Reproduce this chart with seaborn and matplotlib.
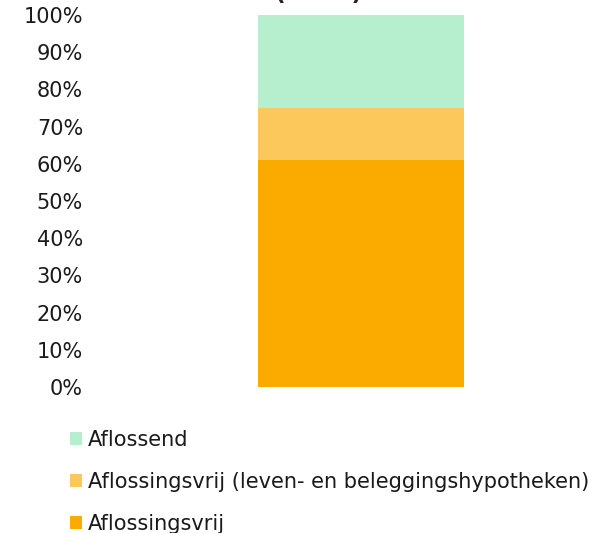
import matplotlib
matplotlib.use("Agg")
import matplotlib.pyplot as plt
import seaborn as sns
import pandas as pd
from matplotlib.patches import Patch
from matplotlib.ticker import PercentFormatter

# data (share of mortgages, %)
category = [""]
aflossingsvrij = [61]
aflossingsvrij_leven = [14]
aflossend = [25]
labels = ["Aflossend", "Aflossingsvrij (leven- en beleggingshypotheken)", "Aflossingsvrij"]
colors = ["#B5EFCD", "#FCC85C", "#FBAA00"]

sns.set_theme(style="white")
plt.rcParams["font.family"] = ["DejaVu Sans"]

df = pd.DataFrame({
    "cat": category,
    "vrij": aflossingsvrij,
    "leven": aflossingsvrij_leven,
    "aflossend": aflossend,
})
df["bottom2"] = df["vrij"]
df["bottom3"] = df["vrij"] + df["leven"]

fig = plt.figure(figsize=(6.13, 5.33), dpi=100)
ax = fig.add_axes([90 / 613, 146 / 533, 523 / 613, 372 / 533])

w = 0.394
sns.barplot(data=df, x="cat", y="vrij", color=colors[2], width=w, saturation=1,
            linewidth=0, ax=ax)
sns.barplot(data=df, x="cat", y="leven", color=colors[1], width=w, saturation=1,
            linewidth=0, bottom=df["bottom2"], ax=ax)
sns.barplot(data=df, x="cat", y="aflossend", color=colors[0], width=w, saturation=1,
            linewidth=0, bottom=df["bottom3"], ax=ax)

ax.set_xlim(-0.518, 0.482)
ax.set_ylim(0, 100)
ax.set_yticks(range(0, 101, 10))
ax.yaxis.set_major_formatter(PercentFormatter(decimals=0))
ax.tick_params(axis="y", labelsize=15, colors="#1a1a1a", length=0, pad=5)
ax.set_xticks([])
ax.set_xlabel("")
ax.set_ylabel("")
sns.despine(ax=ax, left=True, bottom=True)

# title sits mostly above the canvas, as in the reference
fig.text(319 / 613, 1.0, "(2012)", ha="center", va="baseline",
         fontsize=17, fontweight="bold")

handles = [Patch(facecolor=c, edgecolor="none") for c in colors]
fig.legend(handles, labels, loc="center left", bbox_to_anchor=(62 / 613, 51 / 533),
           frameon=False, fontsize=15, handlelength=0.55, handleheight=0.55,
           handletextpad=0.3, labelspacing=1.05, borderaxespad=0,
           labelcolor="#1a1a1a")

fig.savefig("out.png", dpi=100)
